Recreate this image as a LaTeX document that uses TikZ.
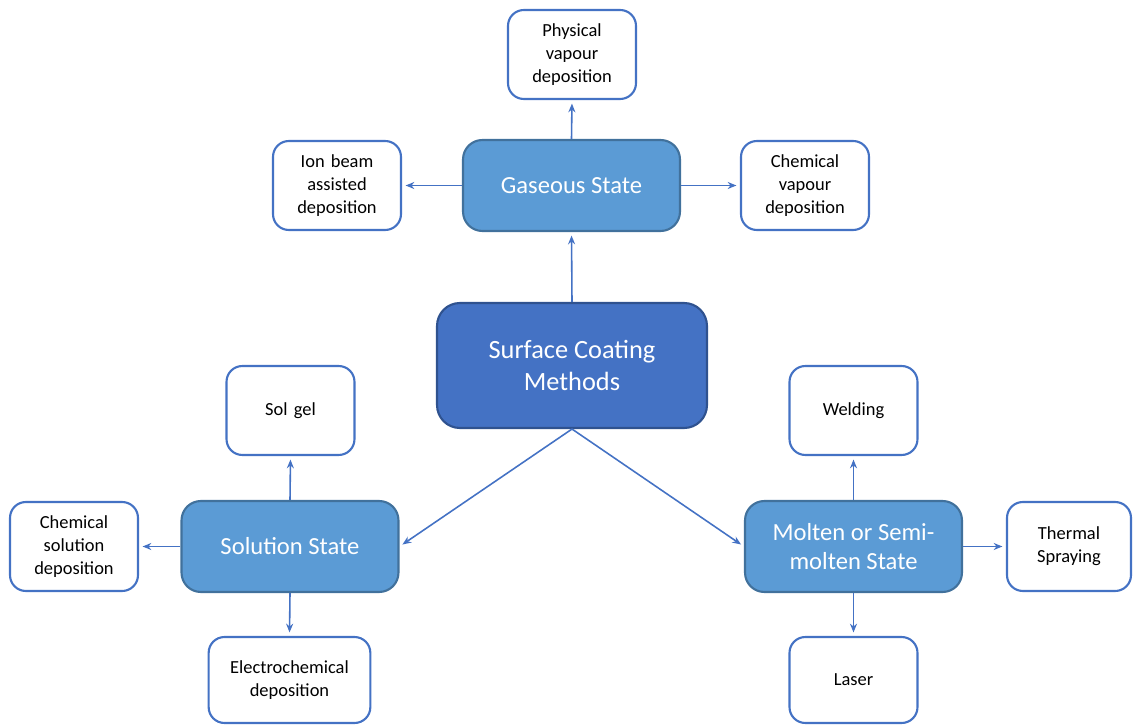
\documentclass[tikz,border=0pt]{standalone}
\usepackage{fontspec}
\setmainfont{Carlito}
\usetikzlibrary{arrows.meta}

\definecolor{leafline}{HTML}{4472C4}
\definecolor{statefill}{HTML}{5B9BD5}
\definecolor{stateline}{HTML}{41719C}
\definecolor{rootfill}{HTML}{4472C4}
\definecolor{rootline}{HTML}{2F528F}

\tikzset{
  leaf/.style={draw=leafline, line width=1.2pt, fill=white, rounded corners=9pt,
    minimum width=2.56cm, minimum height=1.78cm, align=center, text width=2.3cm,
    font=\fontsize{10.5}{13}\selectfont},
  state/.style={draw=stateline, line width=1.2pt, fill=statefill, rounded corners=11pt,
    minimum width=4.34cm, minimum height=1.82cm, align=center, text=white,
    font=\fontsize{14}{16.5}\selectfont},
  root/.style={draw=rootline, line width=1.2pt, fill=rootfill, rounded corners=13pt,
    minimum width=5.4cm, minimum height=2.5cm, align=center, text=white,
    font=\fontsize{15}{18}\selectfont},
  link/.style={draw=leafline, line width=0.9pt, -{Stealth[length=5pt,width=4pt]}, shorten >=2pt}
}

\begin{document}
\begin{tikzpicture}[x=0.02cm, y=-0.02cm]
  \useasboundingbox (0,0) rectangle (1133,726);

  % centre
  \node [root] (surface) at (572,365.5) {Surface Coating\\Methods};

  % the three states
  \node [state] (gas)    at (571.5,185.5) {Gaseous State};
  \node [state] (sol)    at (290,546.5)   {Solution State};
  \node [state] (molten) at (853.5,546.5) {Molten or Semi-\\molten State};

  % gaseous
  \node [leaf] (pvd) at (572,54.5)   {Physical\\vapour\\deposition};
  \node [leaf] (ion) at (337,185.5)  {Ion beam\\assisted\\deposition};
  \node [leaf] (cvd) at (805,185.5)  {Chemical\\vapour\\deposition};

  % solution
  \node [leaf] (solgel) at (290.5,410.5) {Sol gel};
  \node [leaf] (csd)    at (74,546.5)    {Chemical\\solution\\deposition};
  \node [leaf, minimum width=3.22cm, minimum height=1.72cm, text width=3cm]
               (ecd)    at (289.5,680)   {Electrochemical\\deposition};

  % molten
  \node [leaf] (weld)    at (853.5,410.5) {Welding};
  \node [leaf, minimum width=2.48cm, text width=2.2cm]
               (spray)   at (1069,546.5)  {Thermal\\Spraying};
  \node [leaf, minimum height=1.72cm] (laser) at (853.5,680) {Laser};

  \draw [link] (surface.north) -- (gas.south);
  \draw [link] (surface.south) -- (sol.east);
  \draw [link] (surface.south) -- (molten.west);

  \draw [link] (gas.north) -- (pvd.south);
  \draw [link] (gas.west)  -- (ion.east);
  \draw [link] (gas.east)  -- (cvd.west);

  \draw [link] (sol.north) -- (solgel.south);
  \draw [link] (sol.west)  -- (csd.east);
  \draw [link] (sol.south) -- (ecd.north);

  \draw [link] (molten.north) -- (weld.south);
  \draw [link] (molten.east)  -- (spray.west);
  \draw [link] (molten.south) -- (laser.north);
\end{tikzpicture}
\end{document}
